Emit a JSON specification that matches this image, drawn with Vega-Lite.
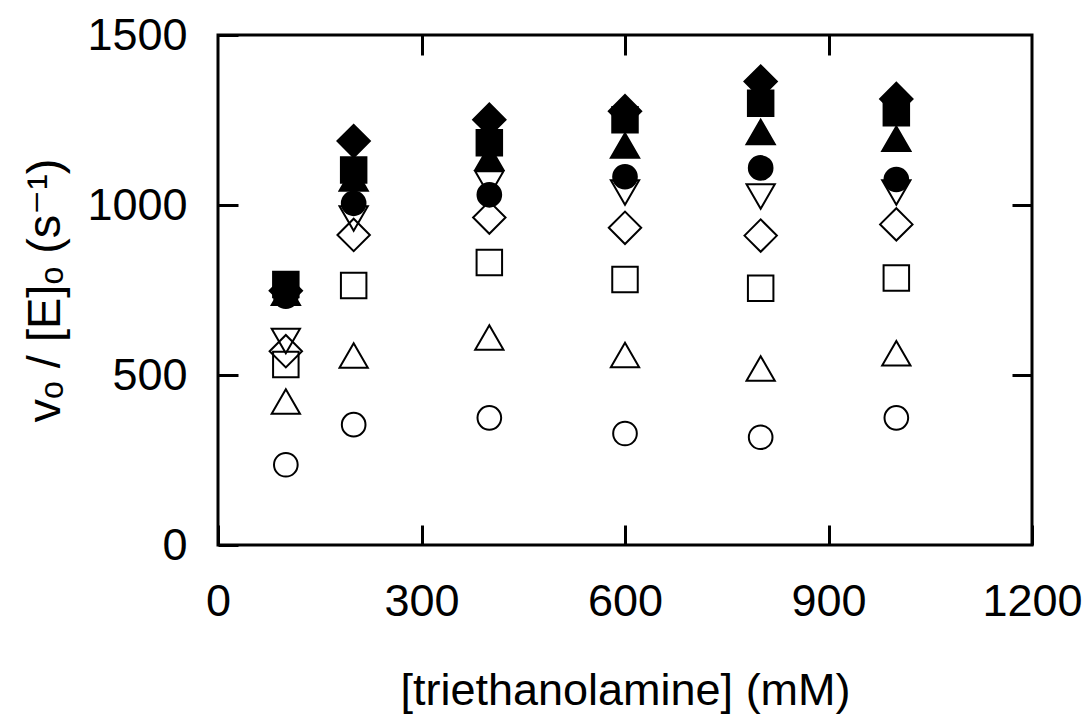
{
  "$schema": "https://vega.github.io/schema/vega-lite/v6.json",
  "width": 814,
  "height": 510,
  "autosize": "none",
  "padding": {"left": 218, "top": 35, "right": 58, "bottom": 177},
  "background": "white",
  "config": {
    "view": {"stroke": "black", "strokeWidth": 3},
    "font": "Liberation Sans",
    "axis": {
      "domain": false,
      "grid": false,
      "ticks": true,
      "tickSize": -20,
      "tickWidth": 3,
      "tickColor": "black",
      "labelFont": "Liberation Sans",
      "labelFontSize": 45,
      "labelColor": "black",
      "labelFlush": false,
      "labelOverlap": false,
      "format": "d",
      "titleFont": "Liberation Sans, DejaVu Sans",
      "titleFontWeight": "normal",
      "titleColor": "black"
    }
  },
  "data": {
    "values": [
      {"tea": 100, "rate": 236, "series": "s1"},
      {"tea": 200, "rate": 354, "series": "s1"},
      {"tea": 400, "rate": 374, "series": "s1"},
      {"tea": 600, "rate": 328, "series": "s1"},
      {"tea": 800, "rate": 317, "series": "s1"},
      {"tea": 1000, "rate": 374, "series": "s1"},
      {"tea": 100, "rate": 422, "series": "s2"},
      {"tea": 200, "rate": 557, "series": "s2"},
      {"tea": 400, "rate": 610, "series": "s2"},
      {"tea": 600, "rate": 559, "series": "s2"},
      {"tea": 800, "rate": 519, "series": "s2"},
      {"tea": 1000, "rate": 564, "series": "s2"},
      {"tea": 100, "rate": 531, "series": "s3"},
      {"tea": 200, "rate": 763, "series": "s3"},
      {"tea": 400, "rate": 831, "series": "s3"},
      {"tea": 600, "rate": 781, "series": "s3"},
      {"tea": 800, "rate": 755, "series": "s3"},
      {"tea": 1000, "rate": 785, "series": "s3"},
      {"tea": 100, "rate": 570, "series": "s4"},
      {"tea": 200, "rate": 912, "series": "s4"},
      {"tea": 400, "rate": 963, "series": "s4"},
      {"tea": 600, "rate": 933, "series": "s4"},
      {"tea": 800, "rate": 910, "series": "s4"},
      {"tea": 1000, "rate": 943, "series": "s4"},
      {"tea": 100, "rate": 600, "series": "s5"},
      {"tea": 200, "rate": 960, "series": "s5"},
      {"tea": 400, "rate": 1063, "series": "s5"},
      {"tea": 600, "rate": 1037, "series": "s5"},
      {"tea": 800, "rate": 1025, "series": "s5"},
      {"tea": 1000, "rate": 1037, "series": "s5"},
      {"tea": 100, "rate": 732, "series": "s6"},
      {"tea": 200, "rate": 1005, "series": "s6"},
      {"tea": 400, "rate": 1030, "series": "s6"},
      {"tea": 600, "rate": 1083, "series": "s6"},
      {"tea": 800, "rate": 1109, "series": "s6"},
      {"tea": 1000, "rate": 1075, "series": "s6"},
      {"tea": 100, "rate": 742, "series": "s7"},
      {"tea": 200, "rate": 1078, "series": "s7"},
      {"tea": 400, "rate": 1139, "series": "s7"},
      {"tea": 600, "rate": 1175, "series": "s7"},
      {"tea": 800, "rate": 1215, "series": "s7"},
      {"tea": 1000, "rate": 1195, "series": "s7"},
      {"tea": 100, "rate": 748, "series": "s9"},
      {"tea": 200, "rate": 1188, "series": "s9"},
      {"tea": 400, "rate": 1251, "series": "s9"},
      {"tea": 600, "rate": 1276, "series": "s9"},
      {"tea": 800, "rate": 1363, "series": "s9"},
      {"tea": 1000, "rate": 1312, "series": "s9"},
      {"tea": 100, "rate": 766, "series": "s8"},
      {"tea": 200, "rate": 1103, "series": "s8"},
      {"tea": 400, "rate": 1183, "series": "s8"},
      {"tea": 600, "rate": 1251, "series": "s8"},
      {"tea": 800, "rate": 1299, "series": "s8"},
      {"tea": 1000, "rate": 1271, "series": "s8"}
    ]
  },
  "encoding": {
    "x": {"field": "tea", "type": "quantitative", "scale": {"domain": [0, 1200], "nice": false, "zero": false}},
    "y": {"field": "rate", "type": "quantitative", "scale": {"domain": [0, 1500], "nice": false}}
  },
  "layer": [
    {
      "mark": {"type": "point", "filled": true, "stroke": "black", "strokeWidth": 2, "opacity": 1},
      "encoding": {
        "x": {"field": "tea", "type": "quantitative", "axis": {"orient": "bottom", "values": [0, 300, 600, 900, 1200], "labelPadding": 54, "title": "[triethanolamine] (mM)", "titleFontSize": 45, "titleBaseline": "middle", "titleY": 145}},
        "y": {"field": "rate", "type": "quantitative", "axis": {"orient": "left", "values": [0, 500, 1000, 1500], "labelPadding": 51, "title": "vₒ / [E]ₒ (s⁻¹)", "titleFontSize": 47, "titleBaseline": "middle", "titleX": -173}},
        "shape": {"field": "series", "type": "nominal", "legend": null, "scale": {"domain": ["s1", "s2", "s3", "s4", "s5", "s6", "s7", "s8", "s9"], "range": ["circle", "triangle-up", "square", "diamond", "triangle-down", "circle", "triangle-up", "square", "diamond"]}},
        "fill": {"field": "series", "type": "nominal", "legend": null, "scale": {"domain": ["s1", "s2", "s3", "s4", "s5", "s6", "s7", "s8", "s9"], "range": ["transparent", "transparent", "transparent", "transparent", "transparent", "black", "black", "black", "black"]}},
        "size": {"field": "series", "type": "ordinal", "legend": null, "scale": {"type": "ordinal", "domain": ["s1", "s2", "s3", "s4", "s5", "s6", "s7", "s8", "s9"], "range": [560, 800, 650, 1050, 800, 560, 800, 650, 1050]}}
      }
    },
    {
      "mark": {"type": "point", "opacity": 0},
      "encoding": {
        "x": {"field": "tea", "type": "quantitative", "axis": {"orient": "top", "values": [300, 600, 900], "labels": false, "title": null}},
        "y": {"field": "rate", "type": "quantitative", "axis": {"orient": "right", "values": [500, 1000], "labels": false, "title": null}}
      }
    }
  ],
  "resolve": {"axis": {"x": "independent", "y": "independent"}}
}
